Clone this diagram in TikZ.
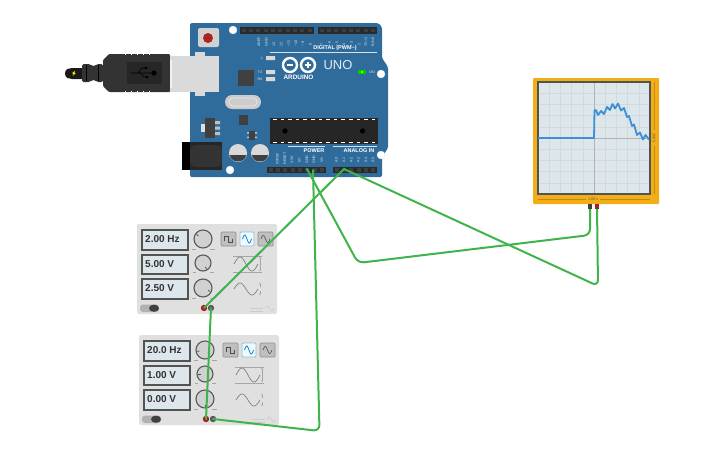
\documentclass[tikz,border=0pt]{standalone}
\usepackage{fontspec}
\setmainfont{Liberation Sans}
\usetikzlibrary{arrows.meta}
\definecolor{boardblue}{HTML}{2F6C9C}
\definecolor{wiregreen}{HTML}{3FB44A}
\definecolor{headerdark}{HTML}{2A2A2A}
\definecolor{pinhole}{HTML}{3E3E3E}
\definecolor{panel}{HTML}{E0E0E0}
\definecolor{lcd}{HTML}{DCE6EB}
\definecolor{lcdedge}{HTML}{4F5554}
\definecolor{scopeorange}{HTML}{F2AD17}
\definecolor{tracecol}{HTML}{3F8FD6}
\definecolor{gridcol}{HTML}{CFD9DE}
\definecolor{plugdark}{HTML}{333333}
\definecolor{silver}{HTML}{DADADA}
\definecolor{pinred}{HTML}{A81F1F}
\tikzset{
  x=1pt,y=-1pt,
  wire/.style={draw=wiregreen,line width=2pt,rounded corners=6pt,line cap=round},
  tiny/.style={text=white,font=\fontsize{3.6}{4}\selectfont,inner sep=0pt,opacity=.85},
  tinyrot/.style={tiny,rotate=90},
  boardtitle/.style={text=white,font=\fontsize{5.5}{6}\bfseries\selectfont,inner sep=0pt},
  lcdbox/.style={draw=lcdedge,fill=lcd,line width=2pt},
  lcdtext/.style={text=black!80,font=\fontsize{10}{12}\bfseries\selectfont,inner sep=0pt,anchor=west},
  knob/.style={draw=black!65,fill=black!18,line width=1.1pt},
  wavebtn/.style={draw=black!45,fill=black!25,line width=.7pt,rounded corners=1pt},
  wavebtnon/.style={draw=cyan!60!black!50,fill=cyan!6,line width=.9pt,rounded corners=1pt},
  icon/.style={draw=black!35,line width=.6pt},
  sinewave/.style={draw=black!50,line width=.7pt},
  headerbar/.style={fill=headerdark},
  hole/.style={fill=white,draw=black!10,line width=.3pt},
}
% \gen{x}{y}{prefix}{freq}{amp}{off}{angle1}{angle2}{angle3}
\newcommand{\gen}[9]{%
\begin{scope}[shift={(#1,#2)}]
  \fill[panel,rounded corners=2pt] (137,224) rectangle (277,314);
  \draw[lcdbox] (142,230) rectangle (188,250);
  \draw[lcdbox] (142,254.5) rectangle (188,274);
  \draw[lcdbox] (142,279) rectangle (188,298.5);
  \node[lcdtext] (#3f) at (145,239.5) {#4};
  \node[lcdtext] (#3a) at (145,264) {#5};
  \node[lcdtext] (#3o) at (145,288.5) {#6};
  \draw[knob] (203,239) circle (9);
  \draw[knob] (203,263) circle (8);
  \draw[knob] (203,288) circle (9);
  \draw[black!70,line width=.7pt] (203,239)++(#7:5.5) -- ++(#7:2.5);
  \draw[black!70,line width=.7pt] (203,263)++(#8:4.5) -- ++(#8:2.5);
  \draw[black!70,line width=.7pt] (203,288)++(#9:5.5) -- ++(#9:2.5);
  \draw[black!35,line width=.5pt] (192,249.5)--(196,249.5) (210,249.5)--(215,249.5) (193,272.5)--(196,272.5) (210,272.5)--(214,272.5) (192,298)--(196,298) (210,298)--(215,298);
  \draw[wavebtn] (221,232) rectangle (236,246);
  \draw[wavebtnon] (240,232) rectangle (254,246);
  \draw[wavebtn] (258,232) rectangle (273,246);
  \draw[black!70,line width=.6pt] (224.5,241)--(224.5,236)--(228.5,236)--(228.5,242)--(232.5,242)--(232.5,239);
  \draw[cyan!70!blue,line width=.8pt,domain=0:360,samples=40] plot ({242.5+\x/40},{239-4*sin(\x)});
  \draw[black!70,line width=.6pt,domain=0:360,samples=40] plot ({261+\x/40},{239-3.5*sin(\x)});
  \draw[icon] (233,256)--(262,256) (233,272)--(262,272);
  \draw[sinewave,domain=0:360,samples=50] plot ({234+\x/15},{264-7*sin(\x)});
  \draw[icon,{Stealth[length=2pt]}-{Stealth[length=2pt]}] (260,256.5)--(260,271.5);
  \draw[sinewave,domain=0:360,samples=50] plot ({234+\x/15},{289-6*sin(\x)});
  \draw[icon,-{Stealth[length=2pt]}] (260,287)--(260,282.5);
  \draw[icon,-{Stealth[length=2pt]}] (260,291)--(260,295.5);
  \fill[black!30,rounded corners=3pt] (140,304.5) rectangle (159,312);
  \fill[black!75] (154,308.2) ellipse (5 and 3.6);
  \draw[black!20,line width=.5pt] (250,308)--(263,308) (250,311)--(263,311);
  \draw[black!20,line width=.6pt,domain=0:360,samples=30] plot ({265+\x/40},{308.5-2.5*sin(\x)});
  \fill[pinred] (204,308) circle (3.2);
  \fill[black!65] (211,308) circle (3.2);
  \coordinate (#3red) at (204,308);
  \coordinate (#3blk) at (211,308);
\end{scope}}
\begin{document}
\begin{tikzpicture}
\path[use as bounding box] (0,0) rectangle (725,453);
% USB plug
\fill[black!90] (65,73.5) .. controls (65,69) and (69,68) .. (72,68) -- (82,68) -- (82,79) -- (72,79) .. controls (69,79) and (65,78) .. (65,73.5) -- cycle;
\fill[plugdark,rounded corners=1.5pt] (82,64) -- (90,64) -- (92,66) -- (95,66) -- (97,64) -- (103,64) -- (103,82) -- (97,82) -- (95,80) -- (92,80) -- (90,82) -- (82,82) -- cycle;
\draw[black,line width=1pt] (86,65) -- (86,81) (98,65) -- (98,81);
\fill[plugdark,rounded corners=1pt] (103,60) -- (109,54) -- (170,54) -- (170,92) -- (109,92) -- (103,86) -- cycle;
\foreach \xx in {125,131,137,143,149} {\fill[white] (\xx,53.8) rectangle +(.8,1.4); \fill[white] (\xx,90.8) rectangle +(.8,1.4);}
\fill[black!85] (127,62) rectangle (162,84);
\draw[black,line width=.7pt] (131,73) -- (155,73) (138,73) -- (142,68) -- (146,68) (140,73) -- (144,77) -- (147,77);
\fill[black] (154,73) circle (2.6) (146,68) circle (1.5) (147,77) circle (1.5);
\fill[yellow!85!orange] (72,73) -- (75,71) -- (74.5,73) -- (76,73) -- (72.5,76) -- (73.5,74) -- cycle;
% Board
\fill[boardblue,rounded corners=1.5pt] (190,23) -- (378,23) -- (382,27) -- (382,58) -- (388,67) -- (388,148) -- (382,157) -- (382,177) -- (190,177) -- cycle;
% USB socket
\fill[silver] (195,52) rectangle (205,96);
\fill[silver] (170,56) rectangle (219,92);
\fill[black!5] (170,60) rectangle (172,88);
% holes
\draw[hole] (233,30) circle (4);
\draw[hole] (381,74) circle (4);
\draw[hole] (381,155) circle (4);
\draw[hole] (230,170) circle (4);
% headers
\fill[headerbar] (240,27) rectangle (314,33.5);
\fill[headerbar] (318,27) rectangle (377,33.5);
\fill[headerbar] (267,167) rectangle (326,173);
\fill[headerbar] (333,167) rectangle (377,173);
\foreach \xx in {0,...,9} {\fill[pinhole] ({241.5+7.35*\xx},28.5) rectangle +(4,3.5);}
\foreach \xx in {0,...,7} {\fill[pinhole] ({319.5+7.35*\xx},28.5) rectangle +(4,3.5);}
\foreach \xx in {0,...,7} {\fill[pinhole] ({268.5+7.35*\xx},168.2) rectangle +(4,3.5);}
\foreach \xx in {0,...,5} {\fill[pinhole] ({334.5+7.35*\xx},168.2) rectangle +(4,3.5);}
% reset
\fill[black!18,rounded corners=2pt] (198,28) rectangle (219,47);
\fill[pinred!95!orange] (208,38) circle (5);
% ICs etc
\fill[black!75] (238,70) rectangle (254,86);
\fill[black!20,rounded corners=7pt] (225,95) rectangle (261,109);
\draw[black!8,rounded corners=4pt,line width=.6pt] (229,98) rectangle (257,106);
\fill[black!75] (239,115) rectangle (248,125);
\fill[black!12] (201,124) rectangle (206,132);
\fill[black!75] (205,118) rectangle (215,138);
\fill[black!25] (215,121) rectangle (220,124) (215,126.5) rectangle (220,129.5) (215,132) rectangle (220,135);
\fill[black!75] (249,131) rectangle (255,140);
\fill[black!25] (247,132) rectangle (249,133.5) (247,136.5) rectangle (249,138) (255,132) rectangle (257,133.5) (255,136.5) rectangle (257,138);
% ATmega
\fill[black!85] (270,118) rectangle (378,144);
\foreach \xx in {0,...,13} {\fill[white] ({273+7.6*\xx},119) rectangle +(3.5,1.2); \fill[white] ({273+7.6*\xx},141.5) rectangle +(3.5,1.2);}
\fill[black] (285,131) circle (2.6) (362.5,131) circle (2.6);
% caps
\foreach \cx in {238,260} {
  \fill[black!15] (\cx,153) circle (9);
  \fill[black!75] (\cx-8,155) arc (180:360:8 and -6.5) -- cycle;
}
% power jack
\fill[black!85] (185,142) rectangle (222,170);
\fill[black] (182,142) rectangle (190,170);
\fill[black!80,rounded corners=5pt] (190,145) rectangle (222,167);
% Labels
\node[tinyrot] (lAREF) at (259,42) {AREF};
\node[tinyrot] (lGNDd) at (266.5,42) {GND};
\node[tinyrot] (l13) at (274,44) {13};
\node[tinyrot] (l12) at (281,44) {12};
\node[tinyrot] (l11) at (288.5,43.5) {\textasciitilde11};
\node[tinyrot] (l10) at (296,43.5) {\textasciitilde10};
\node[tinyrot] (l9) at (303,44) {\textasciitilde9};
\node[tinyrot] (l8) at (310.5,44) {8};
\node[tinyrot] (l7) at (322,44) {7};
\node[tinyrot] (l6) at (329.5,44) {\textasciitilde6};
\node[tinyrot] (l5) at (337,44) {\textasciitilde5};
\node[tinyrot] (l4) at (344,44) {4};
\node[tinyrot] (l3) at (351.5,44) {\textasciitilde3};
\node[tinyrot] (l2) at (359,44) {2};
\node[tinyrot] (l1) at (366,42) {TX>1};
\node[tinyrot] (l0) at (373,42) {RX<0};
\node[boardtitle] (digital) at (335,48) {DIGITAL (PWM\textasciitilde)};
\draw[white,line width=.4pt,opacity=.8] (270,52) -- (377,52);
\node[tiny] (lL) at (262,58) {L};
\node[tiny] (lTX) at (260,72) {TX};
\node[tiny] (lRX) at (260,79) {RX};
\fill[black!15] (266,56) rectangle (275,60) (266,70) rectangle (275,74) (266,77) rectangle (275,81);
\draw[white,line width=2.4pt] (290,65) circle (7) (308,65) circle (7);
\draw[white,line width=1.1pt] (287,65)--(293,65) (305,65)--(311,65) (308,62)--(308,68);
\node[text=white,font=\fontsize{6.4}{7}\bfseries\selectfont,inner sep=0pt] (arduino) at (298.5,77) {ARDUINO};
\node[text=white,font=\fontsize{13}{14}\selectfont,inner sep=0pt,opacity=.85] (uno) at (338,65) {UNO};
\fill[green!80!black] (358,70) rectangle (366,74);
\fill[green!50!yellow] (361,71) rectangle (363,73);
\node[tiny] (lON) at (372,72) {ON};
\node[boardtitle] (power) at (314,151) {POWER};
\node[boardtitle] (analog) at (359,151) {ANALOG IN};
\draw[white,line width=.4pt,opacity=.8] (288,146) -- (325,146) (333,146) -- (377,146);
\node[tinyrot] (lIO) at (277.5,158.5) {IOREF};
\node[tinyrot] (lRS) at (285,158.5) {RESET};
\node[tinyrot] (l33) at (292,159.5) {3.3V};
\node[tinyrot] (l5v) at (299.5,160) {5V};
\node[tinyrot] (lg1) at (307,159.5) {GND};
\node[tinyrot] (lg2) at (314,159.5) {GND};
\node[tinyrot] (lvi) at (321.5,160) {Vin};
\foreach \i/\xx in {0/336.5,1/344,2/351,3/358.5,4/366,5/373} {\node[tinyrot] (lA\i) at (\xx,160) {A\i};}
% Oscilloscope
\fill[scopeorange,rounded corners=1pt] (533,78) rectangle (659,204);
\draw[scopeorange!80!black,line width=.4pt] (538,199) -- (586,199) (600,199) -- (650,199) (654,82) -- (654,130) (654,146) -- (654,194);
\fill[lcd] (538,82) rectangle (650,194);
\foreach \i in {1,...,9} {
 \draw[gridcol,line width=.6pt] ({538+11.2*\i},82) -- ({538+11.2*\i},194);
 \draw[gridcol,line width=.6pt] (538,{82+11.2*\i}) -- (650,{82+11.2*\i});
}
\draw[black!30,line width=.8pt] (594,82) -- (594,194) (538,138) -- (650,138);
\draw[lcdedge,line width=1.6pt] (538,82) rectangle (650,194);
\draw[tracecol,line width=1.8pt,line join=round] (538,138) -- (594,138) -- (594.5,110.5) -- (596,110) -- (598,115) -- (601,111) -- (604,114) -- (607,107) -- (610,110) -- (612.5,104) -- (615,108.5) -- (618,103.5) -- (621,110.5) -- (624,108) -- (627,117) -- (629,116) -- (632,126) -- (634,124.5) -- (637,135) -- (640,132.5) -- (643,139.5) -- (645.5,135) -- (649,139.5);
\node[text=black!65,font=\fontsize{3.6}{4}\selectfont,inner sep=0pt] (tlabel) at (593,199) {1.00 s};
\node[text=black!65,font=\fontsize{3.6}{4}\selectfont,inner sep=0pt,rotate=-90] (vlabel) at (654,138) {200 V};
\coordinate (scBlack) at (590,206);
\coordinate (scRed) at (597,206);
% Generators
\gen{0}{0}{ga}{2.00 Hz}{5.00 V}{2.50 V}{215}{60}{25}
\gen{2}{111}{gb}{20.0 Hz}{1.00 V}{0.00 V}{170}{180}{90}
% Board pin anchors
\coordinate (pGNDa) at (307,169);
\coordinate (pGNDb) at (313,170);
\coordinate (pAone) at (344,169);
\coordinate (bendA) at (358,263);
\coordinate (bendB) at (590,235);
\coordinate (bendC) at (598,286);
\coordinate (bendD) at (319.5,431);
% Wires
\draw[wire] (pGNDa) -- (bendA) -- (bendB) -- (scBlack);
\draw[wire] (pGNDb) -- (bendD) -- (gbblk);
\draw[wire] (pAone) -- (gared);
\draw[wire] (pAone) -- (bendC) -- (scRed);
\draw[wire] (gablk) -- (gbred);
% scope pins on top
\fill[black!75] (588.2,204) rectangle (591.8,208.5);
\fill[pinred] (595.2,204) rectangle (598.8,208.5);
\end{tikzpicture}
\end{document}
